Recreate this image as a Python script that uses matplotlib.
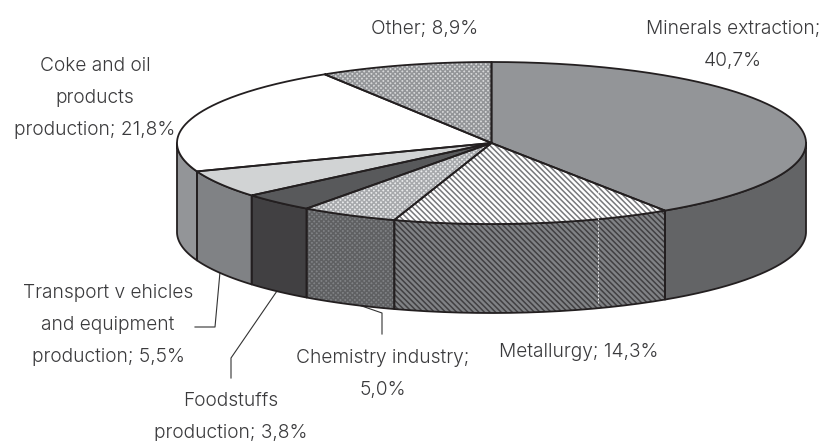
import numpy as np
import matplotlib
matplotlib.use("Agg")
import matplotlib.pyplot as plt

labels = ["Minerals extraction;\n40,7%", "Metallurgy; 14,3%", "Chemistry industry;\n5,0%",
          "Foodstuffs\nproduction; 3,8%", "Transport v ehicles\nand equipment\nproduction; 5,5%",
          "Coke and oil\nproducts\nproduction; 21,8%", "Other; 8,9%"]
values = [40.7, 14.3, 5.0, 3.8, 5.5, 21.8, 8.9]

top_colors = ["#939598", "#ffffff", "#e8e9ea", "#58595b", "#d1d3d4", "#ffffff", "#d6d7d8"]
top_hatch_colors = [None, "#77787b", "#a7a9ac", None, None, None, "#939598"]
side_colors = ["#636466", "#808285", "#808285", "#414042", "#808285", "#939598", "#636466"]
side_hatch_colors = [None, "#414042", "#5f6062", None, None, None, None]
hatches = [None, "\\\\\\\\\\\\", "xxxxxxx", None, None, None, "xxxxxxx"]

label_pos = [(733, 45), (579, 352), (383, 374), (231, 417), (108, 325), (95, 98), (425, 29)]
leaders = {
    2: [(353, 303), (382, 313), (382, 334)],
    3: [(277, 291), (231, 358), (231, 378)],
    4: [(220, 272), (215, 327), (195, 327)],
}

cx, cy = 491.5, 143
rx, ry = 314.5, 81
depth = 89
edge = "#231f20"

plt.rcParams["font.family"] = ["Inter", "DejaVu Sans"]
plt.rcParams["hatch.linewidth"] = 1.1

fig = plt.figure(figsize=(8.34, 4.41), dpi=100)
ax = fig.add_axes([0, 0, 1, 1])
ax.set_xlim(0, 834)
ax.set_ylim(441, 0)
ax.axis("off")


def rim(a0, a1, dy=0):
    t = np.radians(np.linspace(a0, a1, max(int(abs(a1 - a0) * 2), 2)))
    return np.column_stack([cx + rx * np.sin(t), cy + dy - ry * np.cos(t)])


def fill(pts, color, hatch_color, hatch, z):
    if hatch and hatch_color:
        ax.fill(pts[:, 0], pts[:, 1], facecolor=color, edgecolor=hatch_color, hatch=hatch, lw=0, zorder=z)
    else:
        ax.fill(pts[:, 0], pts[:, 1], facecolor=color, edgecolor="none", zorder=z)
    ax.plot(np.r_[pts[:, 0], pts[0, 0]], np.r_[pts[:, 1], pts[0, 1]], color=edge, lw=1.3, zorder=z + 0.5,
            solid_joinstyle="round")


ends = np.cumsum(values) / np.sum(values) * 360
starts = np.r_[0, ends[:-1]]

# sides first, only the front half of the rim shows
for i in range(len(values)):
    a0, a1 = max(starts[i], 90), min(ends[i], 270)
    if a1 <= a0:
        continue
    pts = np.vstack([rim(a0, a1), rim(a0, a1, depth)[::-1]])
    fill(pts, side_colors[i], side_hatch_colors[i], hatches[i], 2)

for i in range(len(values)):
    pts = np.vstack([[(cx, cy)], rim(starts[i], ends[i])])
    fill(pts, top_colors[i], top_hatch_colors[i], hatches[i], 3)

# leftover seam in the metallurgy slice
ax.plot([598, 598], [188, 303], color="white", lw=0.6, ls=(0, (2, 2)), zorder=4)

for i, pts in leaders.items():
    ax.plot(*zip(*pts), color="#333333", lw=0.8, zorder=1)

for lab, (x, y) in zip(labels, label_pos):
    ax.text(x, y, lab, ha="center", va="center", fontsize=13.8, color="#3a3a3c", linespacing=2.02, fontweight=300)

fig.savefig("out.png", dpi=100)
